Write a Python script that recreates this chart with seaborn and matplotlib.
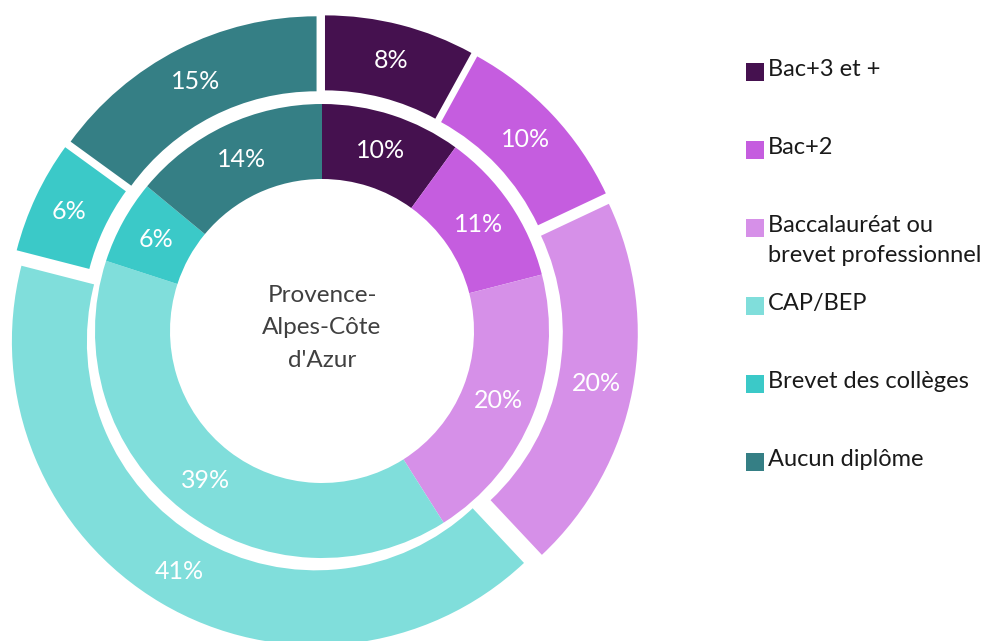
import numpy as np
import pandas as pd
import seaborn as sns
import matplotlib.pyplot as plt

#%% data
categories = ['Bac+3 et +', 'Bac+2', 'Baccalauréat ou\nbrevet professionnel',
              'CAP/BEP', 'Brevet des collèges', 'Aucun diplôme']
outer_pct = [8, 10, 20, 41, 6, 15]
inner_pct = [10, 11, 20, 39, 6, 14]
region = "Provence-\nAlpes-Côte\nd'Azur"
colors = sns.color_palette(['#45114f', '#c55ddf', '#d690e8',
                            '#80dedb', '#3bc9c8', '#357f85'])

sns.set_style('white')
plt.rcParams['font.family'] = ['Lato', 'DejaVu Sans']

#%% figure in pixel units
fig = plt.figure(figsize=(9.92, 6.41), dpi=100)
ax = fig.add_axes([0, 0, 1, 1])

cx, cy = 322, 310

# outer ring, wedges pulled out a little
wedges, texts, pcts = ax.pie(outer_pct, colors=colors, startangle=90, counterclock=False,
                             center=(cx, cy), radius=304, explode=[12] * len(outer_pct),
                             wedgeprops=dict(width=75, linewidth=0),
                             autopct=lambda p: f'{p:.0f}%', pctdistance=0.88,
                             textprops=dict(color='white', fontsize=18))

# inner ring
ax.pie(inner_pct, colors=colors, startangle=90, counterclock=False,
       center=(cx, cy), radius=227, wedgeprops=dict(width=75, linewidth=0),
       autopct=lambda p: f'{p:.0f}%', pctdistance=0.835,
       textprops=dict(color='white', fontsize=18))

# pie() resets the limits, so set them afterwards
ax.set_xlim(0, 992)
ax.set_ylim(0, 641)
ax.set_aspect('equal')
ax.axis('off')

ax.text(cx, cy + 3, region, ha='center', va='center', fontsize=17.5,
        color='#404040', linespacing=1.65)

#%% legend drawn by hand (marker lines up with first line of the label)
leg_y = 569
for i, (lab, col) in enumerate(zip(categories, colors)):
    y = leg_y - i * 78
    ax.scatter(755, y, marker='s', s=170, color=col, linewidths=0)
    ax.text(768, y + 13, lab, ha='left', va='top', fontsize=17,
            color='#1a1a1a', linespacing=1.5)

fig.savefig('out.png', dpi=100)
